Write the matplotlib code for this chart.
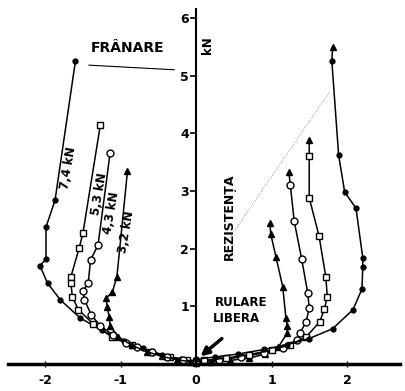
import matplotlib
matplotlib.use('Agg')
import matplotlib.pyplot as plt

# frânare (stanga)
l74_x = [-1.60, -1.87, -1.99, -1.99, -2.07, -1.97, -1.80, -1.54, -1.25, -0.95, -0.70, -0.45, -0.20, 0.0]
l74_y = [5.25, 2.84, 2.37, 1.82, 1.70, 1.40, 1.11, 0.80, 0.58, 0.40, 0.27, 0.16, 0.08, 0.05]
l53_x = [-1.27, -1.50, -1.55, -1.66, -1.66, -1.64, -1.56, -1.37, -1.12, -0.85, -0.60, -0.35, -0.12, 0.0]
l53_y = [4.14, 2.27, 2.01, 1.51, 1.40, 1.16, 0.94, 0.70, 0.47, 0.32, 0.21, 0.12, 0.06, 0.04]
l43_x = [-1.14, -1.30, -1.40, -1.43, -1.50, -1.48, -1.39, -1.27, -1.10, -0.93, -0.78, -0.58, -0.38, -0.18, 0.0]
l43_y = [3.66, 2.06, 1.80, 1.40, 1.27, 1.11, 0.85, 0.66, 0.50, 0.36, 0.29, 0.20, 0.12, 0.07, 0.04]
l32_x = [-0.91, -1.05, -1.11, -1.19, -1.18, -1.15, -1.14, -1.03, -0.85, -0.65, -0.45, -0.25, -0.08, 0.0]
l32_y = [3.34, 1.51, 1.25, 1.14, 0.99, 0.81, 0.66, 0.47, 0.32, 0.21, 0.13, 0.07, 0.04, 0.03]

# rezistenta (dreapta)
r32_x = [0.98, 0.99, 1.06, 1.15, 1.19, 1.21, 1.21, 1.09, 0.92, 0.70, 0.45, 0.20, 0.0]
r32_y = [2.44, 2.25, 1.85, 1.33, 0.80, 0.66, 0.54, 0.29, 0.17, 0.10, 0.06, 0.03, 0.02]
r43_x = [1.23, 1.25, 1.30, 1.40, 1.48, 1.50, 1.46, 1.38, 1.34, 1.15, 0.90, 0.60, 0.30, 0.0]
r43_y = [3.33, 3.10, 2.48, 1.82, 1.23, 0.97, 0.73, 0.54, 0.42, 0.28, 0.19, 0.12, 0.07, 0.04]
r53_x = [1.50, 1.50, 1.50, 1.63, 1.72, 1.74, 1.70, 1.64, 1.46, 1.25, 1.00, 0.70, 0.40, 0.10, 0.0]
r53_y = [3.88, 3.60, 2.88, 2.22, 1.51, 1.16, 0.95, 0.73, 0.47, 0.33, 0.24, 0.16, 0.10, 0.06, 0.05]
r74_x = [1.81, 1.80, 1.89, 1.97, 2.12, 2.21, 2.21, 2.20, 2.08, 1.81, 1.50, 1.20, 0.90, 0.55, 0.25, 0.0]
r74_y = [5.49, 5.25, 3.62, 2.98, 2.70, 1.84, 1.68, 1.30, 0.94, 0.61, 0.44, 0.33, 0.25, 0.17, 0.12, 0.08]

xticks = [-2, -1, 0, 1, 2]
yticks = [1, 2, 3, 4, 5, 6]
labels = ['7,4 kN', '5,3 kN', '4,3 kN', '3,2 kN']

fig = plt.figure(figsize=(4.05, 3.91), dpi=100)
ax = fig.add_axes([0, 0, 1, 1])
ax.set_xlim(-2.60, 2.77)
ax.set_ylim(-0.47, 6.31)

ax.spines['top'].set_visible(False)
ax.spines['right'].set_visible(False)
ax.spines['left'].set_position(('data', 0))
ax.spines['bottom'].set_position(('data', 0))
ax.spines['left'].set_bounds(0, 6.15)
ax.spines['bottom'].set_bounds(-2.5, 2.7)
ax.spines['left'].set_linewidth(1.5)
ax.spines['bottom'].set_linewidth(2.5)

ax.set_xticks(xticks)
ax.set_xticklabels(['-2', '-1', '0', '1', '2'], fontweight='bold', fontsize=9)
ax.set_yticks(yticks)
ax.set_yticklabels([str(t) for t in yticks], fontweight='bold', fontsize=9)
ax.tick_params(axis='x', direction='inout', length=4, width=1, pad=5)
ax.tick_params(axis='y', direction='out', length=4, width=1.2, pad=1)

k = dict(color='black', lw=1.1)
ax.plot(l74_x, l74_y, marker='o', ms=3.5, mfc='black', mec='black', **k)
ax.plot(l53_x, l53_y, marker='s', ms=4, mfc='white', mec='black', mew=1, **k)
ax.plot(l43_x, l43_y, marker='o', ms=5, mfc='white', mec='black', mew=1, **k)
ax.plot(l32_x, l32_y, marker='^', ms=4, mfc='black', mec='black', **k)

ax.plot(r32_x, r32_y, marker='^', ms=4, mfc='black', mec='black', **k)
ax.plot(r43_x, r43_y, marker='o', ms=5, mfc='white', mec='black', mew=1, markevery=list(range(1, len(r43_x))), **k)
ax.plot(r53_x, r53_y, marker='s', ms=4, mfc='white', mec='black', mew=1, markevery=list(range(1, len(r53_x))), **k)
ax.plot(r74_x, r74_y, marker='o', ms=3.5, mfc='black', mec='black', markevery=list(range(1, len(r74_x))), **k)
for xs, ys in [(r43_x, r43_y), (r53_x, r53_y), (r74_x, r74_y)]:
    ax.plot(xs[0], ys[0], marker='^', ms=5, color='black')

# etichete curbe
lab_pos = [(-1.70, 3.40), (-1.28, 2.95), (-1.13, 2.62), (-0.93, 2.29)]
for (tx, ty), s in zip(lab_pos, labels):
    ax.text(tx, ty, s, rotation=80, ha='center', va='center', fontsize=8.5, fontweight='bold')

ax.text(0.15, 5.53, 'kN', rotation=90, ha='center', va='center', fontsize=8.5, fontweight='bold')

ax.text(-0.91, 5.48, 'FRÂNARE', ha='center', va='center', fontsize=10, fontweight='bold')
ax.plot([-1.42, -0.29], [5.18, 5.10], color='black', lw=0.8)

ax.text(0.44, 2.55, 'REZISTENȚA', rotation=90, ha='center', va='center', fontsize=9, fontweight='bold')
ax.plot([1.76, 0.40], [4.70, 2.10], color='gray', lw=0.6, ls=':')

ax.text(0.60, 1.07, 'RULARE', ha='center', va='center', fontsize=8.5, fontweight='bold')
ax.text(0.54, 0.78, 'LIBERA', ha='center', va='center', fontsize=8.5, fontweight='bold')
ax.annotate('', xy=(0.03, 0.10), xytext=(0.37, 0.47),
            arrowprops=dict(arrowstyle='-|>', color='black', lw=2.5, mutation_scale=12))

fig.savefig('out.png', dpi=100)
